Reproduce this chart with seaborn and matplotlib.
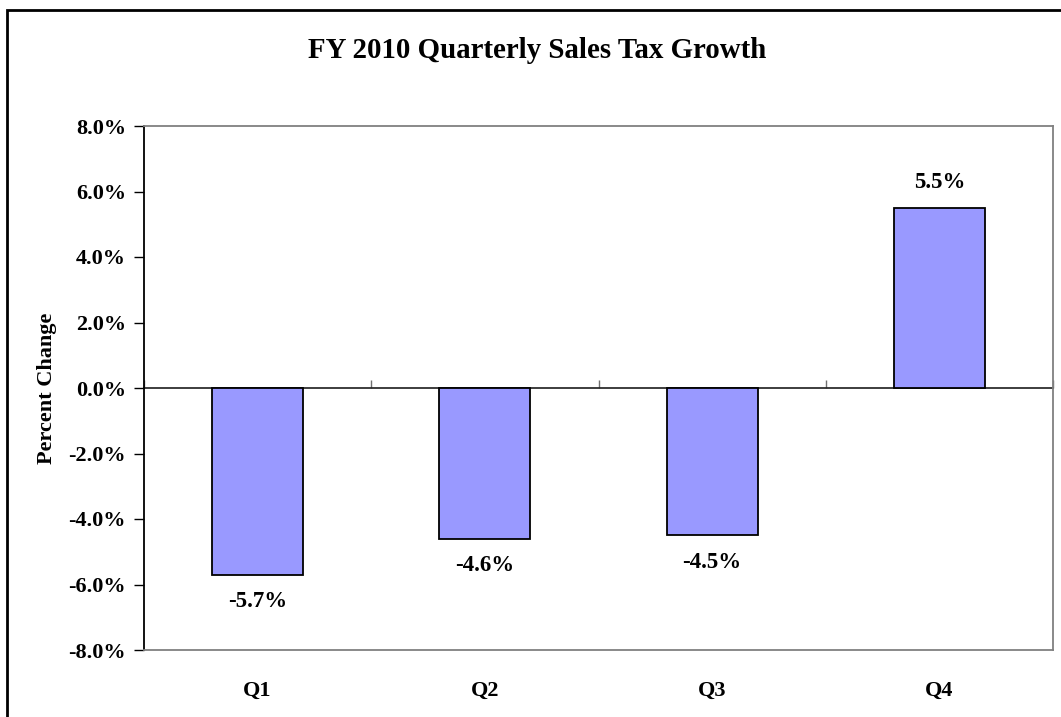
import matplotlib
matplotlib.use("Agg")
import matplotlib.pyplot as plt
import seaborn as sns
import pandas as pd
from matplotlib.patches import Rectangle
from matplotlib.ticker import FuncFormatter

quarters = ["Q1", "Q2", "Q3", "Q4"]
growth = [-5.7, -4.6, -4.5, 5.5]
title = "FY 2010 Quarterly Sales Tax Growth"
ylabel = "Percent Change"

sns.set_theme(style="white")
plt.rcParams["font.family"] = ["Liberation Serif", "DejaVu Serif"]
plt.rcParams["font.weight"] = "bold"
plt.rcParams["text.color"] = "black"
plt.rcParams["axes.labelcolor"] = "black"
plt.rcParams["xtick.color"] = "black"
plt.rcParams["ytick.color"] = "black"

fig = plt.figure(figsize=(10.61, 7.17), dpi=100)
ax = fig.add_axes([144 / 1061, 1 - 650 / 717, (1053 - 144) / 1061, (650 - 126) / 717])

df = pd.DataFrame({"Quarter": quarters, "Growth": growth})
sns.barplot(data=df, x="Quarter", y="Growth", color="#9999FF", edgecolor="black",
            linewidth=1.3, width=0.4, saturation=1, ax=ax)

ax.set_ylim(-8, 8)
ax.set_xlim(-0.5, len(quarters) - 0.5)
ax.set_yticks(range(-8, 9, 2))
ax.yaxis.set_major_formatter(FuncFormatter(lambda v, p: f"{v:.1f}%"))
ax.tick_params(axis="y", direction="out", length=7, width=1, color="black", pad=6,
               labelsize=16, left=True, labelcolor="black")
ax.tick_params(axis="x", length=0, pad=22, labelsize=16, labelcolor="black")
for lab in ax.get_xticklabels() + ax.get_yticklabels():
    lab.set_fontweight("bold")

for s in ["top", "right", "bottom"]:
    ax.spines[s].set_color("#808080")
    ax.spines[s].set_linewidth(1.3)
ax.spines["left"].set_color("black")
ax.spines["left"].set_linewidth(1.3)

ax.set_xlabel("")
ax.set_ylabel(ylabel, fontsize=16, fontweight="bold", labelpad=8, color="black")

# zero axis with category boundary ticks
sec = ax.secondary_xaxis(0.5)
sec.set_xticks([i - 0.5 for i in range(len(quarters) + 1)])
sec.set_xticklabels([])
sec.tick_params(direction="out", length=6, width=1, color="#707070")
sec.spines["bottom"].set_color("#707070")
sec.spines["bottom"].set_linewidth(1.3)

for i, v in enumerate(growth):
    off = 11 if v >= 0 else -12
    ax.annotate(f"{v:.1f}%", (i, v), xytext=(0, off), textcoords="offset points",
                ha="center", va="bottom" if v >= 0 else "top",
                fontsize=16.5, fontweight="bold", color="black")

fig.text(537 / 1061, 1 - 51 / 717, title, ha="center", va="center",
         fontsize=20.8, fontweight="bold", color="black")

fig.patches.append(Rectangle((7 / 1061, -0.1), 1.2, 1 - 10 / 717 + 0.1, fill=False,
                             edgecolor="black", linewidth=2, transform=fig.transFigure,
                             figure=fig))

fig.savefig("out.png", dpi=100, facecolor="white")
